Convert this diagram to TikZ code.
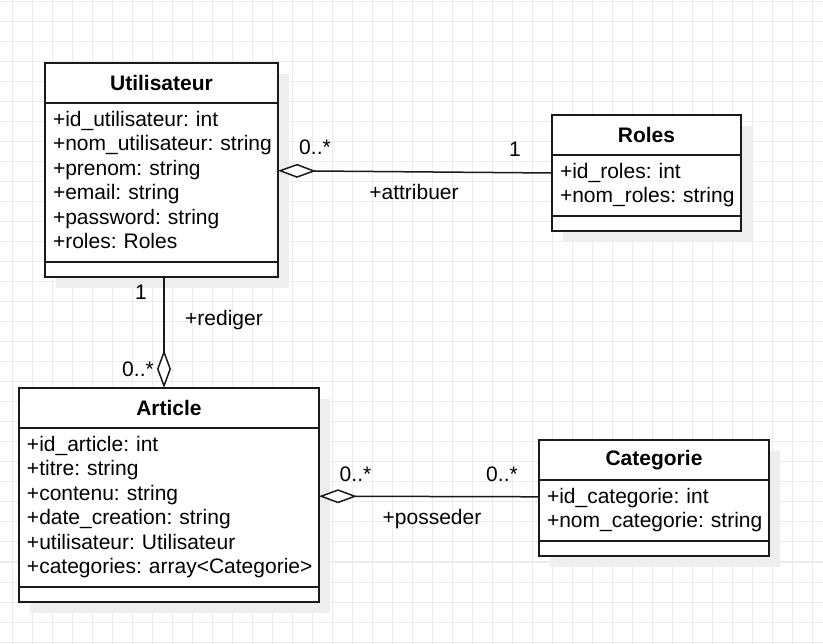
\documentclass[tikz,border=0pt]{standalone}
\usepackage{fontspec}
\setmainfont{Liberation Sans}
\usepackage{tikz}
\usetikzlibrary{positioning}
\usetikzlibrary{arrows.meta}
\usetikzlibrary{shadows}
\definecolor{gridc}{HTML}{EBEBEB}
\definecolor{shad}{HTML}{EEEEEE}
\definecolor{ink}{HTML}{1A1A1A}
\newcommand{\umlfont}{\fontsize{21}{24.5}\selectfont}
\tikzstyle{gridline} = [gridc, line width=1pt]
\tikzstyle{boxshadow} = [drop shadow={shadow xshift=11pt, shadow yshift=-11pt, fill=shad, opacity=1}]
\tikzstyle{classhead} = [draw=ink, line width=2pt, fill=white, outer sep=0pt, minimum height=40pt, font=\umlfont\bfseries, boxshadow]
\tikzstyle{attrs} = [draw=ink, line width=2pt, fill=white, outer sep=0pt, inner xsep=8pt, inner ysep=6pt, align=left, font=\umlfont, execute at begin node=\strut, execute at end node=\strut, boxshadow]
\tikzstyle{ops} = [draw=ink, line width=2pt, fill=white, outer sep=0pt, inner sep=0pt, minimum height=15pt, boxshadow]
\tikzstyle{lbl} = [font=\umlfont, anchor=base, inner sep=0pt]
\tikzstyle{aggr} = [ink, line width=1.5pt, -{Diamond[fill=white, length=38pt, width=14pt]}]

\begin{document}
\begin{tikzpicture}[x=1pt, y=-1pt]
	\useasboundingbox (0,0) rectangle (823,644);
	\foreach \gx in {12,32,...,812} \draw[gridline] (\gx,0) -- (\gx,644);
	\foreach \gy in {2,22,...,642} \draw[gridline] (0,\gy) -- (823,\gy);
	% Utilisateur
	\node[classhead, minimum width=233pt, anchor=north west] (uhead) at (45,63) {Utilisateur};
	\node[attrs, text width=217pt, below=0pt of uhead] (uattr) {+id\_utilisateur:~int\\+nom\_utilisateur:~string\\+prenom:~string\\+email:~string\\+password:~string\\+roles:~Roles};
	\node[ops, minimum width=233pt, below=0pt of uattr] (uops) {};
	% Roles
	\node[classhead, minimum width=189pt, anchor=north west] (rhead) at (552,115) {Roles};
	\node[attrs, text width=173pt, below=0pt of rhead] (rattr) {+id\_roles:~int\\+nom\_roles:~string};
	\node[ops, minimum width=189pt, below=0pt of rattr] (rops) {};
	% Article
	\node[classhead, minimum width=300pt, anchor=north west] (ahead) at (19,388) {Article};
	\node[attrs, text width=284pt, below=0pt of ahead] (aattr) {+id\_article:~int\\+titre:~string\\+contenu:~string\\+date\_creation:~string\\+utilisateur:~Utilisateur\\+categories:~array<Categorie>};
	\node[ops, minimum width=300pt, below=0pt of aattr] (aops) {};
	% Categorie
	\node[classhead, minimum width=230pt, anchor=north west] (chead) at (539,440) {Categorie};
	\node[attrs, text width=214pt, below=0pt of chead] (cattr) {+id\_categorie:~int\\+nom\_categorie:~string};
	\node[ops, minimum width=230pt, below=0pt of cattr] (cops) {};
	% associations
	\draw[aggr] ([yshift=12.5pt]rattr.west) -- ([yshift=11.8pt]uattr.east);
	\draw[aggr] ([xshift=2.5pt]uops.south) -- ([xshift=-5pt]ahead.north);
	\draw[aggr] ([yshift=13.7pt]cattr.west) -- ([yshift=11.3pt]aattr.east);
	\node[lbl] (ur0) at (315,155) {0..*};
	\node[lbl] (ru1) at (515,157) {1};
	\node[lbl] (attr) at (414,200) {+attribuer};
	\node[lbl] (ua1) at (141,300) {1};
	\node[lbl] (red) at (224,326) {+rediger};
	\node[lbl] (au0) at (138,377) {0..*};
	\node[lbl] (ac0) at (355.5,482) {0..*};
	\node[lbl] (ca0) at (502,482) {0..*};
	\node[lbl] (pos) at (432,525) {+posseder};
\end{tikzpicture}
\end{document}
